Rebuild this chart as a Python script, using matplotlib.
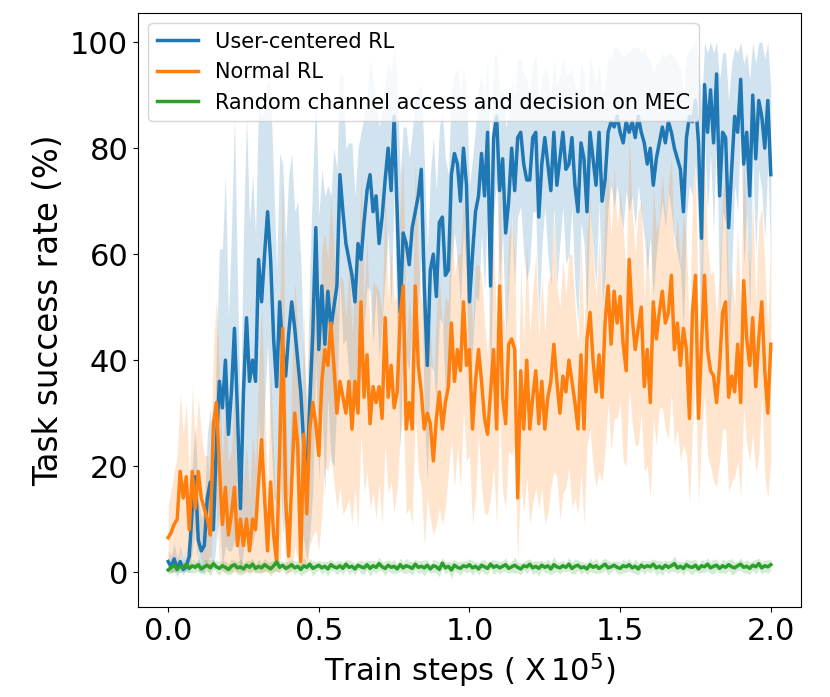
import numpy as np
import matplotlib
matplotlib.use("Agg")
import matplotlib.pyplot as plt

# training progress, in units of 1e5 steps (one sample every 1000 steps)
steps = np.linspace(0, 2.0, 201)

# User-centered RL: mean success rate (%) and spread of the shaded band
user_mean = [
    2, 1, 2.5, 0.5, 2, 0.5, 1, 3, 12, 18,
    6, 4, 5, 14, 17, 8, 24, 36, 31, 40,
    26, 34, 46, 30, 12, 34, 48, 36, 40, 36,
    59, 51, 60, 68, 59, 44, 35, 51, 42, 37,
    45, 51, 46, 40, 34, 24, 17, 32, 45, 65,
    42, 54, 43, 53, 46, 50, 54, 75, 68, 62,
    59, 56, 51, 62, 59, 66, 72, 75, 68, 71,
    62, 67, 74, 80, 72, 86, 68, 49, 64, 62,
    58, 65, 68, 71, 76, 54, 39, 57, 60, 52,
    66, 67, 56, 57, 75, 79, 77, 70, 80, 73,
    51, 60, 68, 71, 79, 71, 83, 54, 82, 86,
    72, 78, 64, 70, 80, 72, 82, 83, 77, 74,
    74, 82, 83, 67, 77, 82, 77, 72, 83, 73,
    78, 83, 76, 77, 82, 73, 68, 81, 78, 68,
    83, 78, 73, 83, 70, 74, 83, 85, 84, 86,
    83, 81, 85, 83, 85, 82, 86, 83, 81, 77,
    80, 73, 78, 81, 84, 81, 85, 83, 80, 78,
    76, 68, 82, 86, 85, 89, 81, 63, 92, 83,
    91, 81, 94, 71, 83, 82, 65, 76, 86, 83,
    93, 77, 83, 71, 90, 78, 89, 86, 80, 89,
    75,
]
user_spread = [
    2, 2, 3, 2, 3, 2, 3, 4, 8, 10,
    8, 6, 8, 12, 14, 10, 18, 25, 30, 35,
    22, 30, 40, 25, 18, 30, 38, 30, 35, 28,
    30, 35, 28, 25, 32, 30, 22, 28, 35, 25,
    30, 28, 22, 30, 25, 18, 15, 25, 30, 25,
    25, 22, 28, 20, 25, 30, 22, 20, 25, 18,
    22, 25, 20, 18, 24, 20, 18, 22, 25, 18,
    22, 20, 18, 16, 22, 14, 24, 26, 20, 22,
    20, 18, 22, 20, 16, 24, 22, 18, 22, 20,
    18, 20, 22, 18, 16, 15, 18, 20, 15, 18,
    22, 18, 16, 20, 15, 18, 14, 22, 15, 12,
    18, 14, 20, 16, 13, 18, 15, 14, 17, 19,
    16, 14, 15, 20, 16, 13, 17, 18, 14, 19,
    16, 14, 18, 17, 13, 19, 21, 15, 16, 20,
    14, 17, 19, 13, 20, 18, 14, 12, 15, 13,
    15, 16, 13, 15, 14, 17, 13, 15, 18, 20,
    17, 21, 18, 15, 14, 16, 13, 15, 17, 18,
    19, 22, 15, 13, 14, 12, 16, 24, 10, 15,
    12, 17, 9, 22, 15, 16, 24, 20, 13, 15,
    9, 19, 15, 22, 12, 18, 13, 14, 17, 12,
    16,
]

# Normal RL
normal_mean = [
    6.5, 7.5, 9, 10, 19, 14, 18, 8, 19, 12,
    19, 14, 12, 10, 7, 28, 32, 20, 9, 16,
    7, 11, 16, 5, 10, 5, 10, 4, 10, 8,
    17, 25, 14, 4, 17, 7, 2, 23, 46, 14,
    3, 17, 30, 24, 2, 26, 11, 27, 32, 28,
    22, 36, 42, 39, 47, 39, 30, 36, 33, 30,
    36, 27, 36, 30, 51, 33, 41, 28, 35, 32,
    35, 29, 48, 33, 39, 31, 34, 48, 54, 27,
    32, 27, 54, 39, 34, 27, 30, 28, 21, 29,
    34, 27, 32, 35, 47, 36, 42, 38, 51, 39,
    42, 27, 36, 42, 36, 29, 26, 34, 42, 27,
    54, 33, 28, 43, 44, 42, 14, 38, 27, 40,
    27, 33, 38, 28, 36, 27, 33, 36, 43, 36,
    30, 37, 34, 40, 36, 32, 27, 41, 27, 44,
    49, 40, 34, 41, 33, 47, 54, 43, 53, 47,
    52, 43, 38, 59, 48, 42, 46, 50, 35, 42,
    32, 51, 44, 49, 53, 47, 49, 56, 42, 47,
    39, 46, 42, 29, 49, 56, 29, 43, 56, 42,
    38, 37, 32, 39, 49, 51, 33, 37, 34, 43,
    32, 55, 44, 39, 48, 35, 44, 51, 38, 30,
    43,
]
normal_spread = [
    6, 8, 10, 12, 15, 12, 14, 10, 16, 12,
    14, 12, 10, 12, 10, 14, 20, 18, 12, 16,
    14, 12, 18, 10, 15, 12, 14, 10, 16, 12,
    20, 25, 18, 10, 22, 15, 8, 25, 30, 18,
    10, 20, 25, 22, 8, 24, 15, 22, 25, 20,
    18, 25, 22, 20, 24, 22, 18, 20, 22, 18,
    22, 18, 20, 22, 25, 18, 22, 16, 20, 22,
    18, 20, 24, 18, 22, 20, 18, 22, 24, 16,
    20, 18, 24, 20, 18, 22, 16, 18, 14, 20,
    22, 18, 20, 16, 22, 20, 18, 22, 20, 18,
    20, 18, 22, 16, 20, 18, 15, 20, 22, 18,
    24, 18, 16, 20, 22, 18, 12, 20, 16, 22,
    18, 20, 22, 16, 20, 18, 22, 20, 24, 18,
    20, 22, 18, 20, 24, 18, 16, 22, 18, 20,
    22, 20, 18, 22, 16, 24, 22, 20, 24, 18,
    20, 22, 18, 24, 20, 18, 22, 20, 16, 22,
    18, 22, 20, 18, 22, 20, 24, 22, 18, 20,
    18, 22, 20, 16, 22, 20, 16, 18, 22, 20,
    18, 20, 16, 18, 22, 24, 18, 20, 16, 22,
    18, 24, 20, 18, 22, 16, 22, 18, 20, 16,
    22,
]

# Random channel access and decision on MEC
random_mean = [
    0.4, 0.9, 1.3, 0.6, 1.1, 0.8, 1.5, 0.7, 1.2, 0.9,
    1.4, 0.6, 1.0, 1.3, 0.8, 1.6, 1.0, 0.7, 1.2, 0.9,
    0.5, 1.1, 1.4, 0.8, 1.0, 0.6, 1.3, 0.9, 1.5, 0.7,
    1.1, 0.8, 1.4, 1.0, 0.6, 1.2, 1.9, 0.9, 1.3, 0.7,
    1.0, 1.4, 0.8, 1.1, 0.5, 1.2, 0.9, 1.5, 0.7, 1.0,
    1.3, 0.8, 1.1, 0.6, 1.4, 1.0, 0.8, 1.2, 0.7, 1.5,
    0.9, 1.1, 0.6, 1.3, 1.0, 0.8, 1.4, 0.7, 1.2, 0.9,
    1.6, 1.0, 0.7, 1.3, 0.9, 1.1, 0.6, 1.4, 0.8, 1.2,
    1.0, 0.7, 1.5, 0.9, 1.1, 0.8, 1.3, 0.6, 1.2, 1.0,
    0.5, 1.7, 0.8, 1.1, 0.4, 1.3, 0.9, 0.7, 1.2, 1.0,
    1.4, 0.8, 1.1, 0.6, 1.3, 1.0, 0.7, 1.5, 0.9, 1.2,
    0.8, 1.1, 1.4, 0.7, 1.0, 1.3, 0.9, 0.6, 1.2, 1.0,
    1.5, 0.8, 1.1, 0.7, 1.3, 0.9, 1.2, 0.6, 1.4, 1.0,
    0.8, 1.2, 0.9, 1.5, 0.7, 1.1, 1.3, 0.8, 1.0, 0.6,
    1.4, 0.9, 1.2, 0.7, 1.1, 1.5, 0.8, 1.0, 1.3, 0.9,
    0.7, 1.2, 1.0, 1.4, 0.8, 1.1, 0.6, 1.3, 0.9, 1.2,
    1.0, 1.5, 0.8, 1.1, 0.7, 1.3, 0.9, 1.2, 1.6, 0.8,
    1.1, 0.7, 1.4, 1.0, 0.9, 1.3, 0.6, 1.2, 1.0, 1.5,
    0.8, 1.1, 1.3, 0.7, 1.2, 0.9, 1.4, 1.0, 0.8, 1.2,
    1.5, 0.9, 1.1, 0.7, 1.3, 1.0, 1.6, 0.8, 1.2, 1.0,
    1.4,
]
random_spread = [
    0.8, 1.2, 1.0, 1.5, 0.9, 1.3, 1.1, 0.7, 1.4, 1.0,
    1.2, 0.9, 1.4, 1.0, 1.6, 0.8, 1.1, 1.3, 0.9, 1.2,
    1.0, 1.4, 0.8, 1.2, 1.5, 1.0, 0.9, 1.3, 1.1, 0.8,
    1.3, 1.0, 1.2, 0.9, 1.4, 1.1, 1.6, 1.0, 0.8, 1.2,
    1.1, 0.9, 1.3, 1.0, 1.2, 1.5, 0.8, 1.1, 1.4, 1.0,
    0.9, 1.2, 1.0, 1.4, 1.1, 0.8, 1.3, 1.0, 1.2, 0.9,
    1.4, 1.0, 1.1, 0.8, 1.3, 1.2, 0.9, 1.5, 1.0, 1.1,
    1.2, 0.9, 1.4, 1.0, 1.1, 1.3, 0.8, 1.2, 1.0, 1.4,
    1.0, 1.3, 0.9, 1.2, 1.1, 1.5, 1.0, 0.8, 1.3, 1.1,
    1.4, 1.0, 1.2, 0.9, 1.6, 1.1, 1.0, 1.3, 0.9, 1.2,
    1.1, 1.4, 0.9, 1.2, 1.0, 1.3, 1.1, 0.8, 1.4, 1.0,
    1.2, 1.0, 1.3, 0.9, 1.1, 1.5, 1.0, 1.2, 0.8, 1.3,
    1.0, 1.2, 1.1, 1.4, 0.9, 1.0, 1.3, 1.1, 1.5, 0.9,
    1.2, 1.0, 0.8, 1.3, 1.1, 1.4, 1.0, 1.2, 0.9, 1.1,
    1.3, 1.0, 1.5, 0.9, 1.2, 1.1, 1.4, 1.0, 0.8, 1.2,
    1.1, 1.3, 1.0, 1.2, 0.9, 1.4, 1.1, 1.0, 1.3, 0.9,
    1.2, 1.0, 1.4, 1.1, 1.3, 0.9, 1.2, 1.0, 1.5, 1.1,
    0.9, 1.3, 1.0, 1.2, 1.4, 1.1, 0.8, 1.3, 1.0, 1.2,
    1.1, 1.4, 1.0, 0.9, 1.3, 1.2, 1.0, 1.5, 1.1, 0.9,
    1.2, 1.0, 1.3, 1.1, 0.9, 1.4, 1.0, 1.2, 1.1, 1.3,
    1.0,
]

series = [
    ("User-centered RL", user_mean, user_spread, "tab:blue"),
    ("Normal RL", normal_mean, normal_spread, "tab:orange"),
    ("Random channel access and decision on MEC", random_mean, random_spread, "tab:green"),
]

fig, ax = plt.subplots(figsize=(8.3, 6.97), dpi=100)
fig.subplots_adjust(left=0.1663, right=0.965, top=0.9813, bottom=0.129)

for label, mean, spread, color in series:
    mean = np.array(mean, dtype=float)
    spread = np.array(spread, dtype=float)
    upper = np.clip(mean + spread, None, 100)
    lower = mean - spread
    if color != "tab:green":
        lower = np.clip(lower, 0, None)
    ax.plot(steps, mean, color=color, lw=2.5, label=label)
    ax.fill_between(steps, lower, upper, color=color, alpha=0.2, lw=0)

ax.set_xlim(-0.1, 2.1)
ax.set_ylim(-6.6, 105.5)
ax.set_xticks([0.0, 0.5, 1.0, 1.5, 2.0])
ax.set_xticklabels(["0.0", "0.5", "1.0", "1.5", "2.0"])
ax.set_yticks([0, 20, 40, 60, 80, 100])
ax.tick_params(labelsize=22)
ax.set_xlabel(r"Train steps ( X$\,10^5$)", fontsize=22)
ax.set_ylabel("Task success rate (%)", fontsize=23.5)
ax.legend(loc="upper left", fontsize=15)

fig.savefig("out.png")
